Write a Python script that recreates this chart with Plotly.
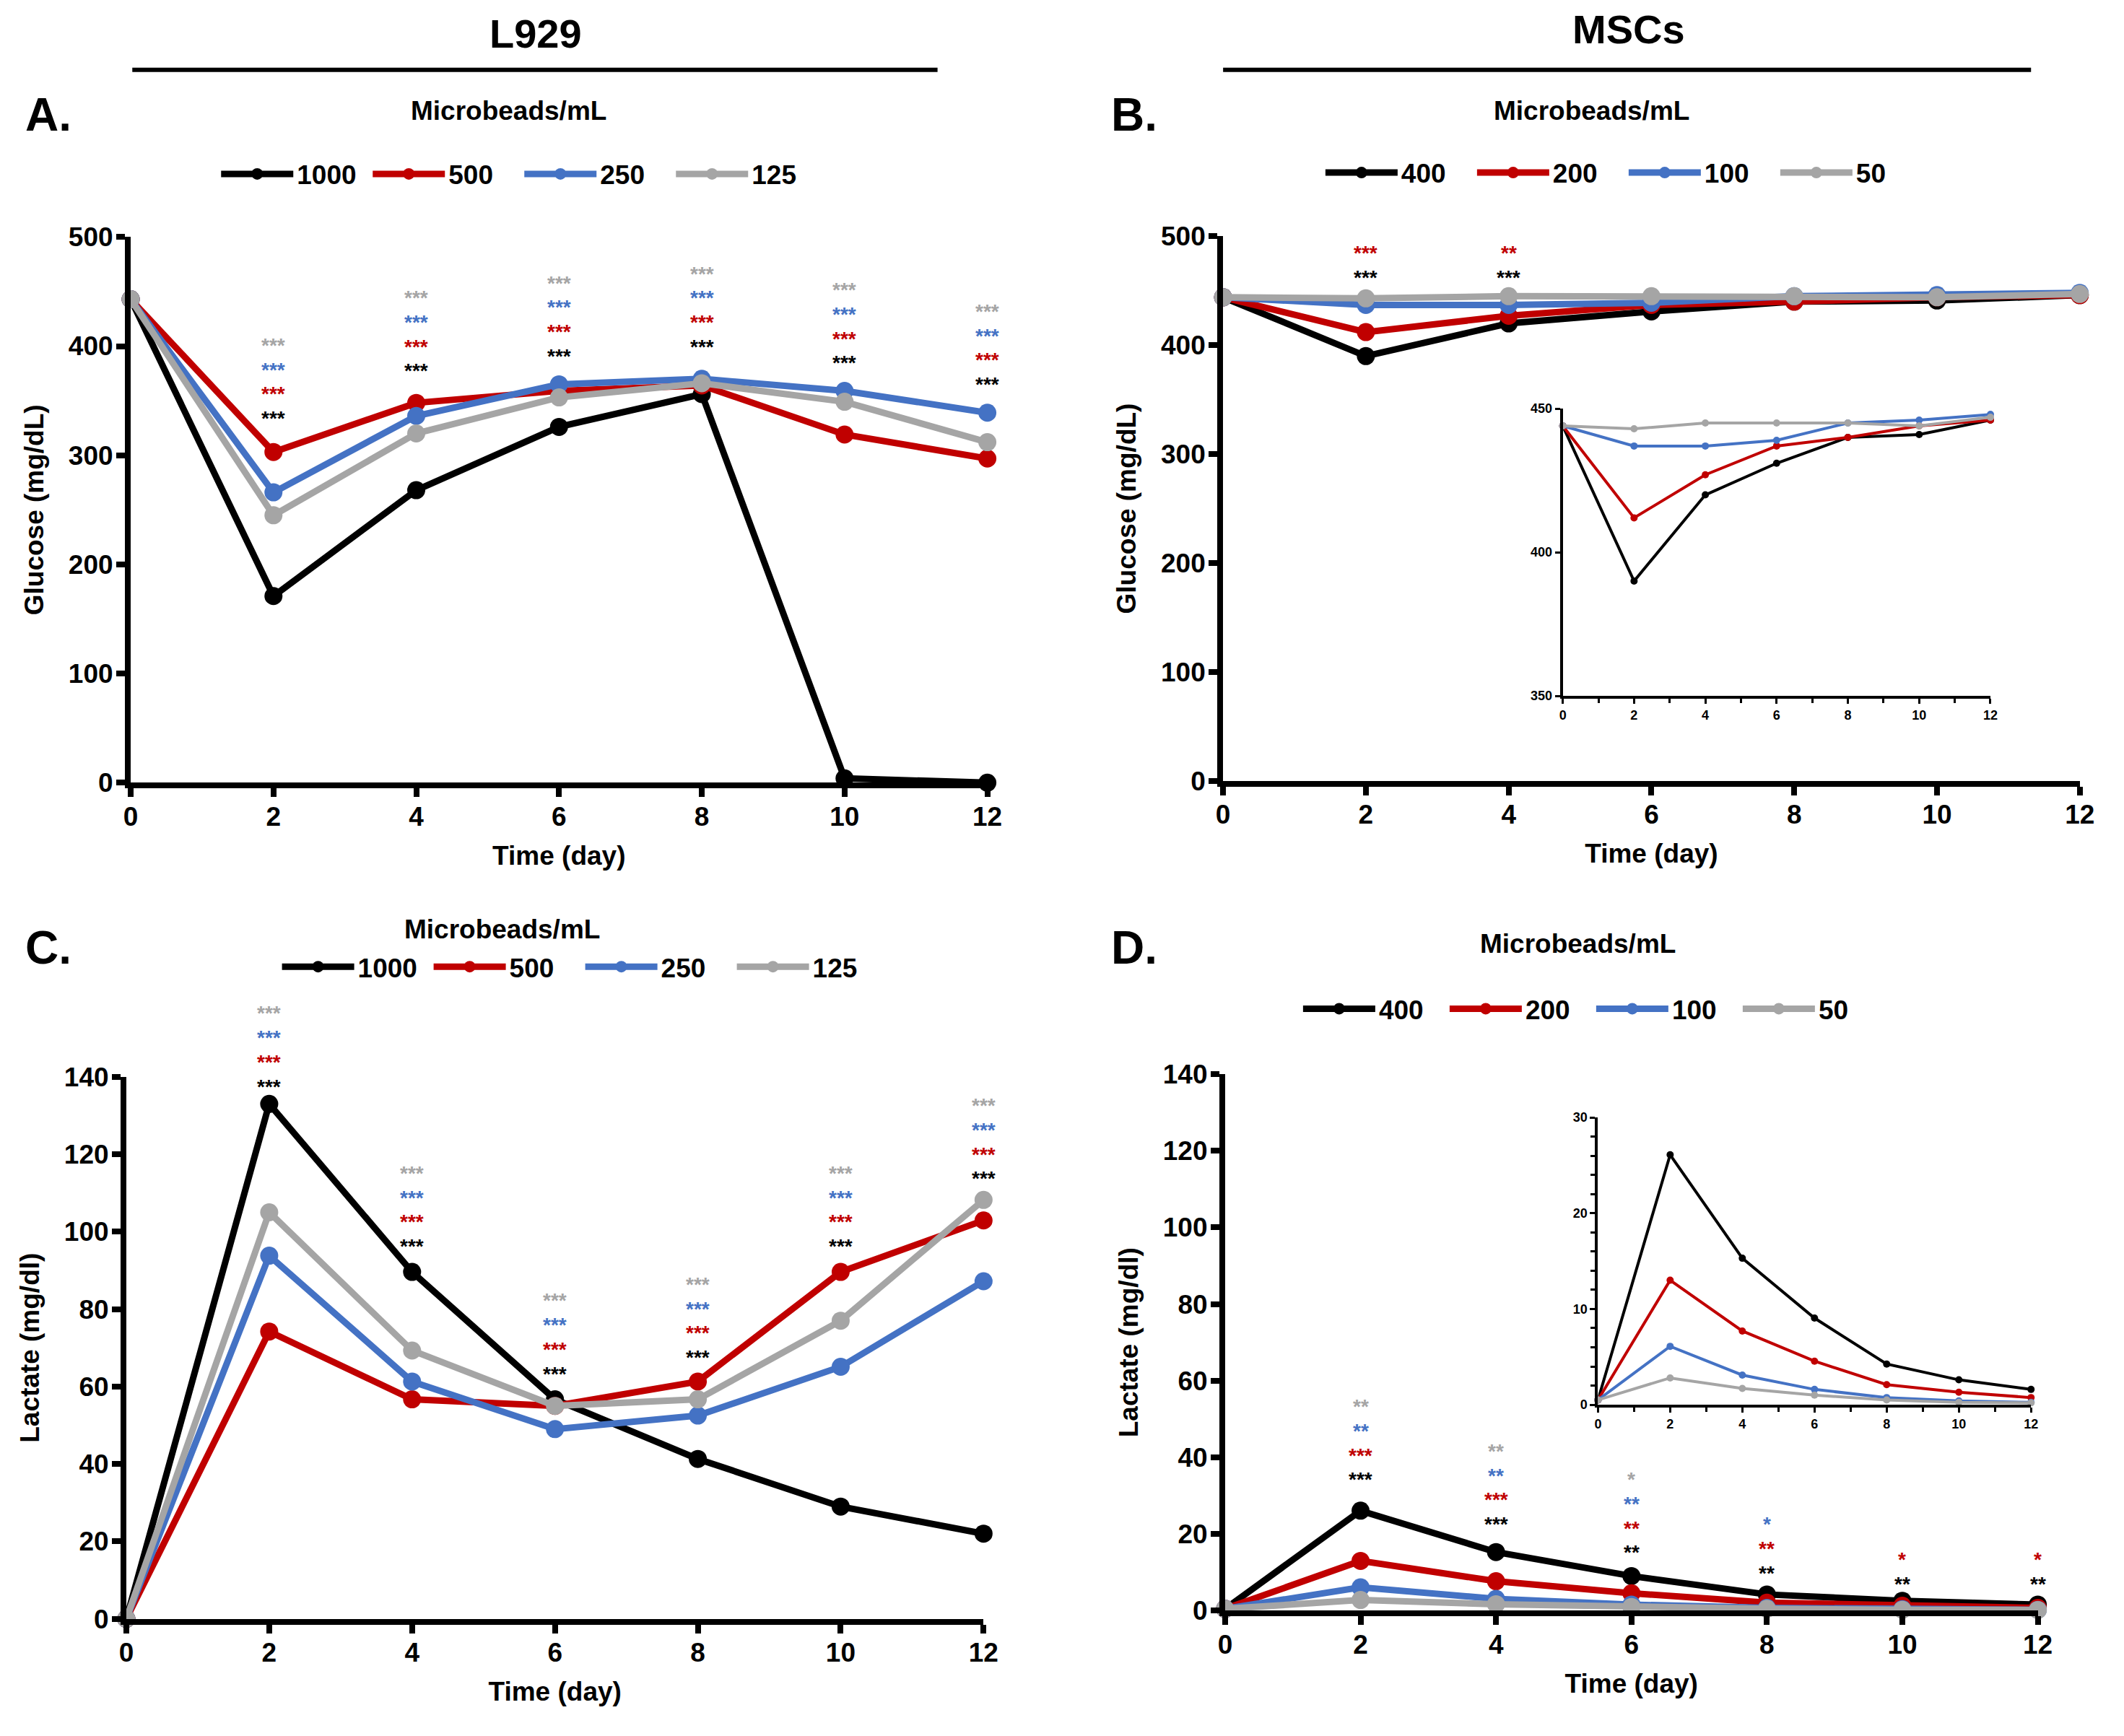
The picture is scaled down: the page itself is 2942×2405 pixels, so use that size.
import plotly.graph_objects as go

# ---------------- data ----------------
days = [0, 2, 4, 6, 8, 10, 12]

l929_names = ["1000", "500", "250", "125"]
msc_names = ["400", "200", "100", "50"]
colors = ["#000000", "#C00000", "#4472C4", "#A5A5A5"]

# Panel A: L929 glucose (mg/dL)
glu_l929_1000 = [443, 171, 268, 326, 356, 4, 0]
glu_l929_500 = [443, 303, 348, 359, 364, 319, 297]
glu_l929_250 = [443, 266, 336, 365, 370, 359, 339]
glu_l929_125 = [443, 245, 320, 353, 366, 349, 312]

# Panel B: MSCs glucose (mg/dL)
glu_msc_400 = [444, 390, 420, 431, 440, 441, 446]
glu_msc_200 = [444, 412, 427, 437, 440, 444, 446]
glu_msc_100 = [444, 437, 437, 439, 445, 446, 448]
glu_msc_50 = [444, 443, 445, 445, 445, 444, 447]

# Panel C: L929 lactate (mg/dl)
lac_l929_1000 = [0, 133, 89.6, 56.7, 41.3, 29, 22]
lac_l929_500 = [0, 74.2, 56.7, 55, 61.3, 89.6, 102.9]
lac_l929_250 = [0, 93.8, 61.3, 49, 52.5, 65.1, 87.2]
lac_l929_125 = [0, 105, 69.3, 55, 56.7, 77, 108.2]

# Panel D: MSCs lactate (mg/dl)
lac_msc_400 = [0.5, 26.1, 15.3, 9.05, 4.25, 2.6, 1.6]
lac_msc_200 = [0.5, 13.0, 7.7, 4.55, 2.1, 1.3, 0.75]
lac_msc_100 = [0.5, 6.1, 3.1, 1.6, 0.75, 0.4, 0.25]
lac_msc_50 = [0.5, 2.8, 1.7, 1.0, 0.5, 0.25, 0.2]

# significance marks: lists per day, ordered bottom-up (black, red, blue, gray)
star_days = [2, 4, 6, 8, 10, 12]
stars_A = [["***", "***", "***", "***"]] * 6
stars_A_base = [337.7, 381.2, 394.8, 403.5, 388.5, 368.8]
stars_B_days = [2, 4]
stars_B = [["***", "***"], ["***", "**"]]
stars_B_base = [466, 466]
stars_C = [["***", "***", "***", "***"]] * 6
stars_C_base = [138.6, 97.3, 64.4, 68.6, 97.3, 114.8]
stars_D = [["***", "***", "**", "**"], ["***", "***", "**", "**"],
           ["**", "**", "**", "*"], ["**", "**", "*"], ["**", "*"], ["**", "*"]]
stars_D_base = [35.3, 23.7, 16.3, 11.0, 8.1, 8.1]

# ---------------- figure ----------------
W, H = 1566.0, 1281.0   # reference frame used for positions
FONT = "Liberation Sans, Arial, sans-serif"

def px(x):
    return (0.9978 * x - 3.5) / W

def py(y):
    return 1 - (y - 4.7) / H

fig = go.Figure()

def add_series(xa, ya, series, names, legend, main=True):
    for vals, name, col in zip(series, names, colors):
        fig.add_trace(go.Scatter(
            x=days, y=vals, name=name, mode="lines+markers",
            line=dict(color=col, width=9 if main else 4),
            marker=dict(color=col, size=25 if main else 10),
            xaxis=xa, yaxis=ya, cliponaxis=False,
            showlegend=main, legend=legend if main else None,
        ))

add_series("x", "y", [glu_l929_1000, glu_l929_500, glu_l929_250, glu_l929_125], l929_names, "legend")
add_series("x2", "y2", [glu_msc_400, glu_msc_200, glu_msc_100, glu_msc_50], msc_names, "legend2")
add_series("x3", "y3", [lac_l929_1000, lac_l929_500, lac_l929_250, lac_l929_125], l929_names, "legend3")
add_series("x4", "y4", [lac_msc_400, lac_msc_200, lac_msc_100, lac_msc_50], msc_names, "legend4")
add_series("x5", "y5", [glu_msc_400, glu_msc_200, glu_msc_100, glu_msc_50], msc_names, None, main=False)
add_series("x6", "y6", [lac_msc_400, lac_msc_200, lac_msc_100, lac_msc_50], msc_names, None, main=False)

tickfont = dict(family=FONT, size=37, color="black", weight="bold")
titlefont = dict(family=FONT, size=37, color="black", weight="bold")
smallfont = dict(family=FONT, size=18, color="black", weight="bold")

def main_x(domain, anchor):
    return dict(domain=domain, anchor=anchor, range=[0, 12], tickvals=[0, 2, 4, 6, 8, 10, 12],
                showline=True, linewidth=8, linecolor="black", ticks="outside", ticklen=12,
                tickwidth=8, tickcolor="black", showgrid=False, zeroline=False,
                tickfont=tickfont, ticklabelstandoff=-5, automargin=False,
                title=dict(text="Time (day)", font=titlefont, standoff=24))

def main_y(domain, anchor, rng, dtick, title):
    return dict(domain=domain, anchor=anchor, range=rng, dtick=dtick,
                showline=True, linewidth=8, linecolor="black", ticks="outside", ticklen=12,
                tickwidth=8, tickcolor="black", showgrid=False, zeroline=False,
                tickfont=tickfont, ticklabelstandoff=-3, automargin=False,
                title=dict(text=title, font=titlefont, standoff=26))

def inset_x(domain, anchor):
    return dict(domain=domain, anchor=anchor, range=[0, 12], tickvals=[0, 2, 4, 6, 8, 10, 12],
                showline=True, linewidth=4, linecolor="black", ticks="outside", ticklen=7,
                tickwidth=3, tickcolor="black", showgrid=False, zeroline=False, automargin=False,
                tickfont=smallfont, minor=dict(dtick=1, ticks="outside", ticklen=6, tickwidth=3, tickcolor="black"))

def inset_y(domain, anchor, rng, dtick, minor):
    d = dict(domain=domain, anchor=anchor, range=rng, dtick=dtick,
             showline=True, linewidth=4, linecolor="black", ticks="outside", ticklen=7,
             tickwidth=3, tickcolor="black", showgrid=False, zeroline=False, automargin=False,
             tickfont=smallfont)
    if minor:
        d["minor"] = dict(dtick=minor, ticks="outside", ticklen=6, tickwidth=3, tickcolor="black")
    return d

fig.update_layout(
    xaxis=main_x([px(95.8), px(728.8)], "y"),
    yaxis=main_y([py(578), py(175.3)], "x", [0, 500], 100, "Glucose (mg/dL)"),
    xaxis2=main_x([px(903), px(1536)], "y2"),
    yaxis2=main_y([py(576.6), py(174.8)], "x2", [0, 500], 100, "Glucose (mg/dL)"),
    xaxis3=main_x([px(92.6), px(726)], "y3"),
    yaxis3=main_y([py(1195), py(795)], "x3", [0, 140], 20, "Lactate (mg/dl)"),
    xaxis4=main_x([px(904.5), px(1505)], "y4"),
    yaxis4=main_y([py(1189), py(793)], "x4", [0, 140], 20, "Lactate (mg/dl)"),
    xaxis5=inset_x([px(1154), px(1470)], "y5"),
    yaxis5=inset_y([py(514), py(302)], "x5", [350, 450], 50, None),
    xaxis6=inset_x([px(1180), px(1500)], "y6"),
    yaxis6=inset_y([py(1037), py(825)], "x6", [0, 30], 10, 2),
)

legend_common = dict(orientation="h", xanchor="center", yanchor="middle",
                     font=dict(family=FONT, size=37, color="black", weight="bold"),
                     bgcolor="rgba(0,0,0,0)", itemwidth=100, tracegroupgap=0,
                     entrywidthmode="pixels")
fig.update_layout(
    legend=dict(x=px(384), y=py(129), entrywidth=95, **legend_common),
    legend2=dict(x=px(1200), y=py(128), entrywidth=95, **legend_common),
    legend3=dict(x=px(429), y=py(714), entrywidth=95, **legend_common),
    legend4=dict(x=px(1176), y=py(745), entrywidth=88, **legend_common),
)

ann = []
def txt(x, y, s, size, xanchor="center", color="black"):
    ann.append(dict(x=x, y=y, xref="paper", yref="paper", text=s, showarrow=False,
                    xanchor=xanchor, yanchor="middle",
                    font=dict(family=FONT, size=size, color=color, weight="bold")))

txt(px(395), py(25), "L929", 56)
txt(px(1203), py(22), "MSCs", 56)
txt(px(17), py(85), "A.", 64, xanchor="left")
txt(px(819), py(85), "B.", 64, xanchor="left")
txt(px(17), py(700), "C.", 64, xanchor="left")
txt(px(819), py(700), "D.", 64, xanchor="left")
txt(px(375), py(82), "Microbeads/mL", 37)
txt(px(1175), py(82), "Microbeads/mL", 37)
txt(px(370), py(686), "Microbeads/mL", 37)
txt(px(1165), py(697), "Microbeads/mL", 37)

def stars(xref, yname, rng, dlist, labels, bases, step):
    lo, hi = rng
    for d, labs, base in zip(dlist, labels, bases):
        for i, s in enumerate(labs):
            val = base + i * step
            ann.append(dict(x=d, y=(val - lo) / (hi - lo), xref=xref, yref=yname + " domain", text=s,
                            showarrow=False, xanchor="center", yanchor="middle", yshift=-6,
                            font=dict(family=FONT, size=28, color=colors[i], weight="bold")))

stars("x", "y", [0, 500], star_days, stars_A, stars_A_base, 22.3)
stars("x2", "y2", [0, 500], stars_B_days, stars_B, stars_B_base, 22.4)
stars("x3", "y3", [0, 140], star_days, stars_C, stars_C_base, 6.3)
stars("x4", "y4", [0, 140], star_days, stars_D, stars_D_base, 6.36)

shapes = [
    dict(type="line", xref="paper", yref="paper", x0=px(97), x1=px(692), y0=py(52), y1=py(52),
         line=dict(color="black", width=6)),
    dict(type="line", xref="paper", yref="paper", x0=px(903), x1=px(1500), y0=py(52), y1=py(52),
         line=dict(color="black", width=6)),
]

fig.update_layout(
    width=2942, height=2405, margin=dict(l=0, r=0, t=0, b=0, pad=0, autoexpand=False),
    paper_bgcolor="white", plot_bgcolor="rgba(0,0,0,0)",
    annotations=ann, shapes=shapes,
    font=dict(family=FONT, color="black"),
)

fig.write_html("out.html")
